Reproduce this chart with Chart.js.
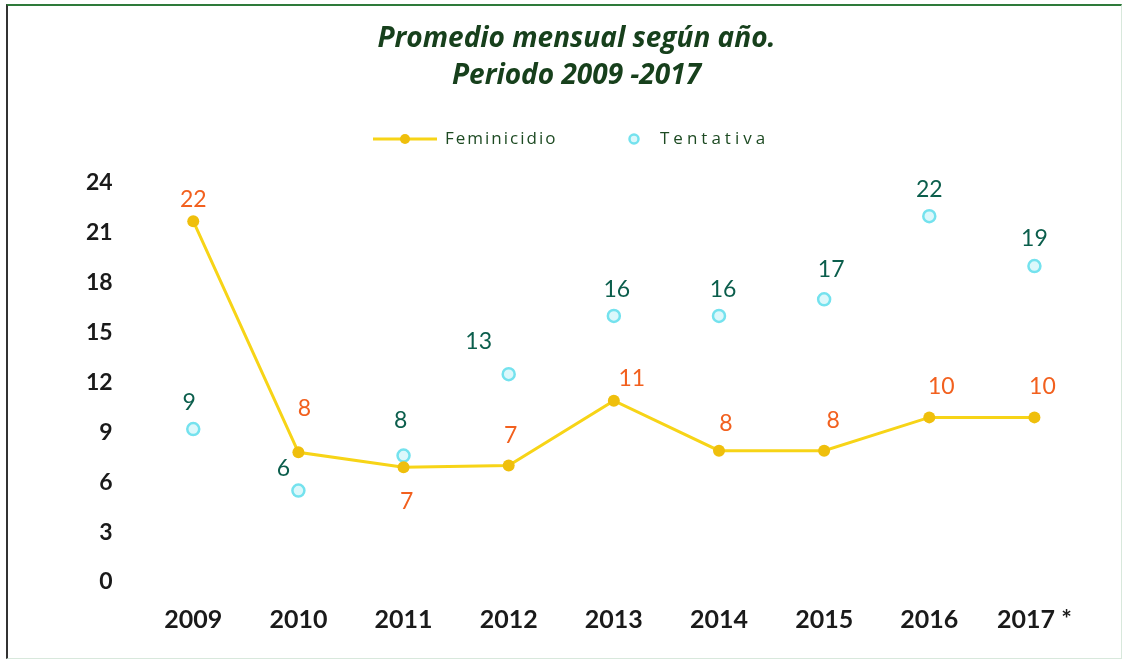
<!DOCTYPE html>
<html>
<head>
<meta charset="utf-8">
<script src="https://cdn.jsdelivr.net/npm/chart.js@4.4.0/dist/chart.umd.min.js"></script>
<style>
  html, body { margin: 0; padding: 0; background: #fff; }
  #wrap {
    position: absolute; left: 6px; top: 4px; width: 1113px; height: 652px;
    border-top: 2px solid #2e7a3a; border-left: 2px solid #333;
    border-right: 1px solid #d8e8dc; border-bottom: 1px solid #d8e8dc;
  }
</style>
</head>
<body>
<div id="wrap"><canvas id="grafico" width="1113" height="652"></canvas></div>
<script>
const anios = ['2009', '2010', '2011', '2012', '2013', '2014', '2015', '2016', '2017 *'];
const feminicidio = [21.7, 7.8, 6.9, 7.0, 10.9, 7.9, 7.9, 9.9, 9.9];
const tentativa = [9.2, 5.5, 7.6, 12.5, 16.0, 16.0, 17.0, 22.0, 19.0];
const yTicks = [0, 3, 6, 9, 12, 15, 18, 21, 24];

// desplazamiento de etiquetas (px) respecto al punto
const offFem = [[0, -22], [6, -44], [3, 34], [2, -30], [18, -22], [7, -27], [9, -30], [12, -31], [8, -31]];
const offTen = [[-4, -26], [-15, -22], [-3, -35], [-30, -33], [3, -26], [4, -26], [7, -30], [0, -27], [0, -27]];

const etiquetas = {
  id: 'etiquetas',
  afterDatasetsDraw(chart) {
    const ctx = chart.ctx;
    chart.data.datasets.forEach((ds, i) => {
      const meta = chart.getDatasetMeta(i);
      const offs = i === 0 ? offFem : offTen;
      ctx.save();
      ctx.font = '23px Lato';
      ctx.fillStyle = i === 0 ? '#f2601e' : '#0b5e4c';
      ctx.textAlign = 'center';
      ctx.textBaseline = 'middle';
      meta.data.forEach((pt, j) => {
        ctx.fillText(Math.round(ds.data[j]), pt.x + offs[j][0], pt.y + offs[j][1]);
      });
      ctx.restore();
    });
  }
};

// leyenda dibujada a mano (línea con marcador / solo marcador)
const leyenda = {
  id: 'leyenda',
  afterDraw(chart) {
    const ctx = chart.ctx;
    const fem = chart.data.datasets[0], ten = chart.data.datasets[1];
    const y = 133;
    ctx.save();
    ctx.strokeStyle = fem.borderColor; ctx.lineWidth = 3;
    ctx.beginPath(); ctx.moveTo(365, y); ctx.lineTo(429, y); ctx.stroke();
    ctx.fillStyle = fem.backgroundColor;
    ctx.beginPath(); ctx.arc(397, y, 5, 0, Math.PI * 2); ctx.fill();
    ctx.strokeStyle = ten.borderColor; ctx.fillStyle = ten.backgroundColor; ctx.lineWidth = 2.5;
    ctx.beginPath(); ctx.arc(626, y, 4.5, 0, Math.PI * 2); ctx.fill(); ctx.stroke();
    ctx.font = '17px "Open Sans"';
    ctx.fillStyle = '#1d4a22';
    ctx.textBaseline = 'middle';
    ctx.letterSpacing = '2px';
    ctx.fillText(fem.label, 437, y);
    ctx.letterSpacing = '4px';
    ctx.fillText(ten.label, 652, y);
    ctx.restore();
  }
};

new Chart(document.getElementById('grafico'), {
  type: 'line',
  data: {
    labels: anios,
    datasets: [
      {
        label: 'Feminicidio',
        data: feminicidio,
        borderColor: '#f7d417',
        backgroundColor: '#efbf0c',
        borderWidth: 3,
        pointRadius: 6,
        pointBorderWidth: 0,
        tension: 0
      },
      {
        label: 'Tentativa',
        data: tentativa,
        showLine: false,
        borderColor: '#74e2ee',
        backgroundColor: '#dcf8fb',
        pointRadius: 6,
        pointBorderWidth: 2.5
      }
    ]
  },
  options: {
    responsive: false,
    animation: false,
    layout: { padding: { left: 58, right: 34, top: 0, bottom: 8 } },
    plugins: {
      title: {
        display: true,
        text: ['Promedio mensual según año.', 'Periodo 2009 -2017'],
        color: '#17401c',
        font: { family: 'Open Sans', size: 28, style: 'italic', weight: 'bold', lineHeight: 1.32 },
        padding: { top: 15, bottom: 88 }
      },
      legend: { display: false },
      tooltip: { enabled: false }
    },
    scales: {
      x: {
        offset: true,
        grid: { display: false },
        border: { display: false },
        ticks: { color: '#1a1a1a', font: { family: 'Lato', size: 25, weight: 'bold' }, padding: 15 }
      },
      y: {
        min: 0, max: 24,
        afterBuildTicks(axis) { axis.ticks = yTicks.map(v => ({ value: v })); },
        grid: { display: false },
        border: { display: false },
        ticks: { color: '#1a1a1a', font: { family: 'Lato', size: 23, weight: 'bold' }, padding: 20 }
      }
    }
  },
  plugins: [etiquetas, leyenda]
});
</script>
</body>
</html>
